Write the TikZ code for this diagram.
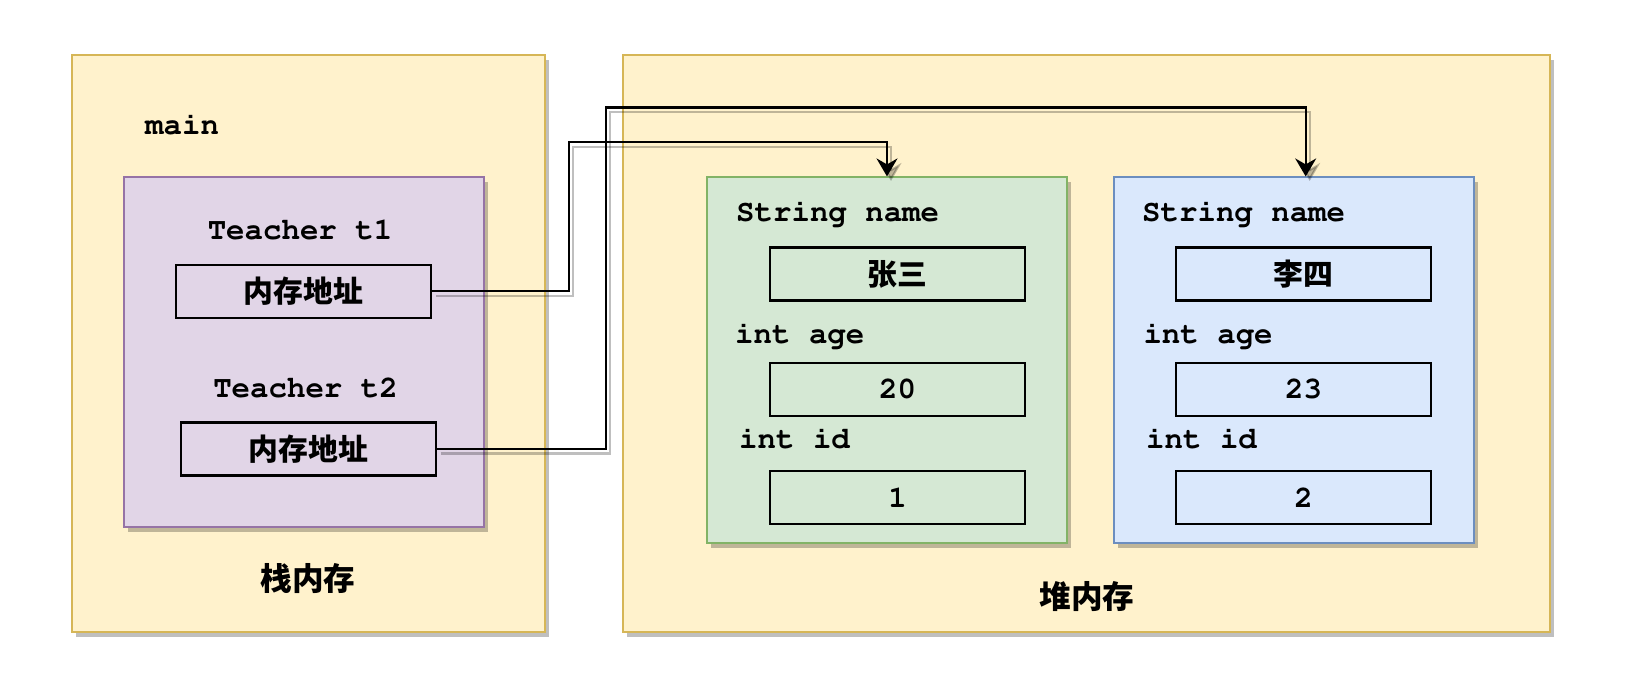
\documentclass[tikz,border=0pt]{standalone}
\usepackage[T1]{fontenc}
\usepackage{fontspec}
\newfontfamily\cjk{Noto Sans CJK SC}
\usetikzlibrary{arrows.meta,shadows}

\definecolor{yelfill}{HTML}{FFF2CC}
\definecolor{yelline}{HTML}{D6B656}
\definecolor{purfill}{HTML}{E1D5E7}
\definecolor{purline}{HTML}{9673A6}
\definecolor{grnfill}{HTML}{D5E8D4}
\definecolor{grnline}{HTML}{82B366}
\definecolor{blufill}{HTML}{DAE8FC}
\definecolor{bluline}{HTML}{6C8EBF}

\newcommand{\codefont}{\fontsize{17.5}{21}\usefont{T1}{pcr}{b}{n}}
\newcommand{\hanfont}{\fontsize{17}{20}\selectfont\cjk\bfseries}
\newcommand{\titlefont}{\fontsize{18}{21}\selectfont\cjk\bfseries}

\tikzset{
  region/.style={draw=#1line, fill=#1fill, line width=1.1pt,
    general shadow={fill=black, opacity=0.25, shadow xshift=0.08cm, shadow yshift=-0.09cm}},
  cell/.style={draw=black, line width=1.2pt, minimum width=5.1cm, minimum height=1.06cm},
  field/.style={anchor=base west, font=\codefont},
  link/.style={line width=1.2pt, -{Stealth[length=0.36cm, width=0.42cm, inset=0.12cm]}}
}

\begin{document}
\begin{tikzpicture}[x=0.02cm, y=-0.02cm]
\useasboundingbox (0,0) rectangle (1627,684);

% stack memory
\node[region=yel, minimum width=9.466cm, minimum height=11.546cm] (stack) at (308.35,343.65) {};
\node[region=pur, minimum width=7.2cm, minimum height=7cm] (frame) at (304,352.3) {};
\node[field] (mainlbl) at (139,134.3) {main};
\node[anchor=base, font=\codefont] (t1lbl) at (300,239) {Teacher t1};
\node[cell, font=\hanfont] (t1) at (303.65,291.15) {内存地址};
\node[anchor=base, font=\codefont] (t2lbl) at (305.5,397.3) {Teacher t2};
\node[cell, font=\hanfont] (t2) at (308.2,449) {内存地址};
\node[font=\titlefont] (stacklbl) at (308,578) {栈内存};

% heap memory
\node[region=yel, minimum width=18.552cm, minimum height=11.546cm] (heap) at (1086.5,343.65) {};
\node[font=\titlefont] (heaplbl) at (1087,596) {堆内存};

\node[region=grn, minimum width=7.2cm, minimum height=7.32cm] (obja) at (887,360.35) {};
\node[field] (anamelbl) at (730,221.7) {String name};
\node[cell, font=\hanfont] (aname) at (897.5,274) {张三};
\node[field] (aagelbl) at (729,343.3) {int age};
\node[cell, font=\codefont] (aage) at (897.5,389.5) {20};
\node[field] (aidlbl) at (733,448.3) {int id};
\node[cell, font=\codefont] (aid) at (897.5,497.65) {1};

\node[region=blu, minimum width=7.2cm, minimum height=7.32cm] (objb) at (1294.3,360.35) {};
\node[field] (bnamelbl) at (1136,221.7) {String name};
\node[cell, font=\hanfont] (bname) at (1303.65,274) {李四};
\node[field] (bagelbl) at (1137.3,343.3) {int age};
\node[cell, font=\codefont] (bage) at (1303.65,389.5) {23};
\node[field] (bidlbl) at (1140,448.3) {int id};
\node[cell, font=\codefont] (bid) at (1303.65,497.65) {2};

% references
\coordinate (bend1) at (569.3,142.3);
\coordinate (bend2) at (606,107.5);
\coordinate (entry2) at ([xshift=0.228cm]objb.north);

\begin{scope}[transform canvas={shift={(0.08cm,-0.09cm)}}, opacity=0.25]
\draw[link] (t1.east) -| (bend1) -| (obja.north);
\draw[link] (t2.east) -| (bend2) -| (entry2);
\end{scope}
\draw[link] (t1.east) -| (bend1) -| (obja.north);
\draw[link] (t2.east) -| (bend2) -| (entry2);
\end{tikzpicture}
\end{document}
